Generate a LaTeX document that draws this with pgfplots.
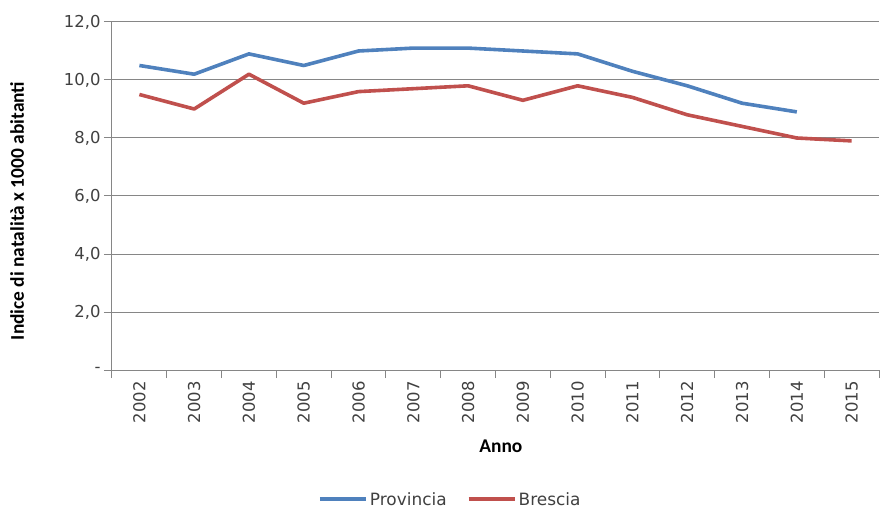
\documentclass[border=0pt]{standalone}
\usepackage{pgfplots}
\pgfplotsset{compat=1.18}
\usepackage{fontspec}
\setmainfont{DejaVu Sans}
\newfontfamily\calib{Carlito}
\definecolor{prov}{HTML}{4F81BD}
\definecolor{bres}{HTML}{C0504D}
\definecolor{axgray}{HTML}{868686}
\definecolor{txt}{HTML}{404040}
\begin{document}
\begin{tikzpicture}
\begin{axis}[
  at={(0,0)}, anchor=south west,
  scale only axis, width=767bp, height=348bp,
  xmin=-0.5, xmax=13.5, ymin=0, ymax=12,
  xtick={0,...,13},
  xticklabels={2002,2003,2004,2005,2006,2007,2008,2009,2010,2011,2012,2013,2014,2015},
  minor xtick={-0.5,0.5,...,13.5},
  major x tick style={draw=none},
  ytick={0,2,4,6,8,10,12},
  yticklabels={-,{2,0},{4,0},{6,0},{8,0},{10,0},{12,0}},
  axis x line*=bottom, axis y line*=left,
  axis line style={draw=axgray, line width=1bp, -},
  tick align=outside,
  tick style={draw=axgray, line width=1bp},
  major tick length=8bp, minor tick length=8bp,
  ymajorgrids,
  grid style={draw=axgray, line width=1bp},
  ticklabel style={font=\fontsize{16.5}{19}\selectfont, text=txt},
  x tick label style={rotate=90, anchor=east},
  xlabel={\calib\bfseries\fontsize{19.5}{22}\selectfont Anno},
  ylabel={\calib\bfseries\fontsize{19.5}{22}\selectfont Indice di natalità x 1000 abitanti},
  every axis x label/.style={at={(rel axis cs:0.507,0)}, yshift=-76bp, anchor=center},
  every axis y label/.style={at={(rel axis cs:0,0.457)}, xshift=-95bp, rotate=90, anchor=center},
  legend style={at={(0.441,-0.372)}, anchor=center, draw=none, fill=none,
    legend columns=2, font=\fontsize{17}{20}\selectfont, text=txt,
    /tikz/every even column/.append style={column sep=18bp},
    inner sep=0pt},
  legend image code/.code={\draw[#1, line width=4bp] (0bp,0bp) -- (46bp,0bp);},
]
\addplot[prov, line width=3.6bp, line join=round] coordinates {
(0,10.5) (1,10.2) (2,10.9) (3,10.5) (4,11.0) (5,11.1) (6,11.1) (7,11.0) (8,10.9) (9,10.3) (10,9.8) (11,9.2) (12,8.9)};
\addlegendentry{Provincia}
\addplot[bres, line width=3.6bp, line join=round] coordinates {
(0,9.5) (1,9.0) (2,10.2) (3,9.2) (4,9.6) (5,9.7) (6,9.8) (7,9.3) (8,9.8) (9,9.4) (10,8.8) (11,8.4) (12,8.0) (13,7.9)};
\addlegendentry{Brescia}
\end{axis}
\pgfresetboundingbox
\path[use as bounding box] (-112bp,-143bp) rectangle (769bp,370bp);
\end{tikzpicture}
\end{document}
